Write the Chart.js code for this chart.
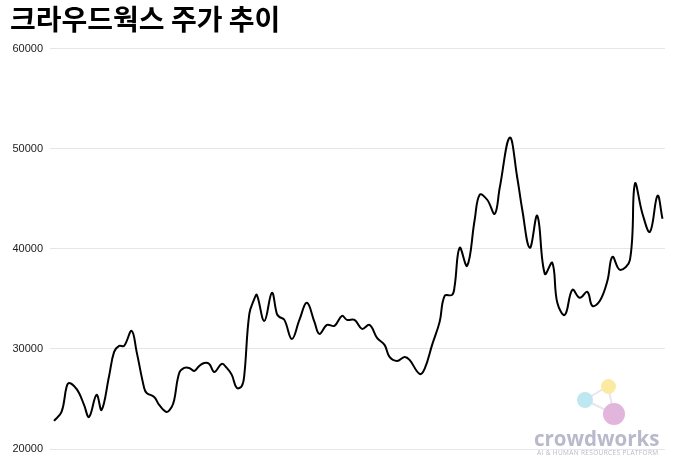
<!DOCTYPE html>
<html lang="ko">
<head>
<meta charset="utf-8">
<title>크라우드웍스 주가 추이</title>
<script src="https://cdn.jsdelivr.net/npm/chart.js@4"></script>
<style>
    html, body { margin: 0; padding: 0; background: #fff; }
    #wrap { position: relative; width: 680px; height: 460px; }
    #logo { position: absolute; left: 0; top: 0; width: 680px; height: 460px; pointer-events: none; }
    .dot { position: absolute; border-radius: 50%; }
    .brand { position: absolute; font-family: "Open Sans", "DejaVu Sans", sans-serif; color: #b9b9cb; white-space: nowrap; }
</style>
</head>
<body>
<div id="wrap">
    <canvas id="priceChart" width="680" height="460"></canvas>
    <div id="logo">
        <svg width="680" height="460" style="position:absolute;left:0;top:0">
            <line x1="585" y1="400" x2="608" y2="386" stroke="#e6e6ee" stroke-width="2"/>
            <line x1="608" y1="386" x2="614" y2="414" stroke="#e6e6ee" stroke-width="2"/>
            <line x1="585" y1="400" x2="614" y2="414" stroke="#e6e6ee" stroke-width="2"/>
        </svg>
        <div class="dot" style="left:577px;top:392px;width:16px;height:16px;background:#bfe7ef"></div>
        <div class="dot" style="left:601px;top:379px;width:15px;height:15px;background:#fceaa3"></div>
        <div class="dot" style="left:603px;top:403px;width:22px;height:22px;background:#e1b5dc"></div>
        <div class="brand" style="left:534px;top:424px;font-size:20.5px;font-weight:700">crowdworks</div>
        <div class="brand" style="left:537px;top:448px;font-size:6.5px;letter-spacing:0.35px">AI &amp; HUMAN RESOURCES PLATFORM</div>
    </div>
</div>
<script>
// --- datos (índice de día hábil y precio en won) ---
const days = [
    0, 3, 5, 6, 8, 10, 12, 14, 17, 19, 22, 24, 26, 28, 31, 33, 36, 37, 40, 42,
    45, 47, 48, 50, 52, 54, 56, 58, 60, 62, 64, 67, 69, 71, 73, 75, 76, 78, 80, 81,
    84, 87, 89, 90, 92, 95, 98, 101, 104, 106, 109, 112, 115, 117, 120, 123, 126, 129, 132, 134,
    137, 140, 142, 146, 148, 151, 154, 156, 159, 160, 162, 165, 168, 170, 173, 176, 178, 182, 185, 187,
    190, 193, 196, 199, 201, 204, 207, 210, 213, 215, 218, 221, 223, 226, 230, 232, 235, 238, 241, 243
];
const prices = [
    22800, 23700, 26200, 26600, 26300, 25600, 24400, 23200, 25400, 23900,
    27300, 29700, 30300, 30300, 31800, 29700, 26100, 25600, 25200, 24400,
    23700, 24200, 24900, 27600, 28100, 28100, 27800, 28300, 28600, 28500,
    27700, 28500, 28100, 27400, 26100, 26300, 27400, 33500, 35000, 35400,
    32800, 35600, 33500, 33200, 32900, 31000, 32900, 34600, 32700, 31500,
    32400, 32300, 33300, 32900, 32900, 32000, 32400, 31100, 30400, 29200,
    28800, 29200, 28900, 27500, 28000, 30400, 32700, 35300, 35400, 36300,
    40100, 38300, 42900, 45400, 44900, 43500, 46100, 51100, 47100, 43900,
    40100, 43300, 37500, 38600, 34600, 33400, 35900, 35100, 35700, 34300,
    34800, 36800, 39200, 37900, 38900, 46500, 43500, 41700, 45300, 43000
];
const yTicks = [20000, 30000, 40000, 50000, 60000];

const points = days.map((d, i) => ({ x: d, y: prices[i] }));

const ctx = document.getElementById('priceChart').getContext('2d');
const priceChart = new Chart(ctx, {
    type: 'line',
    data: {
        datasets: [{
            label: '주가',
            data: points,
            borderColor: '#000',
            borderWidth: 2,
            tension: 0.4,
            pointRadius: 0,
            fill: false
        }]
    },
    options: {
        responsive: false,
        animation: false,
        layout: { padding: { left: 10, right: 15, top: 0, bottom: 11 } },
        plugins: {
            legend: { display: false },
            tooltip: { enabled: false },
            title: {
                display: true,
                text: '크라우드웍스 주가 추이',
                align: 'start',
                color: '#000',
                font: { family: '"Noto Sans CJK KR", sans-serif', size: 28, weight: 'bold' },
                padding: { top: 3, bottom: 12 }
            }
        },
        scales: {
            x: {
                type: 'linear',
                min: -1.6,
                max: 244,
                display: false
            },
            y: {
                min: yTicks[0],
                max: yTicks[yTicks.length - 1],
                afterFit: (scale) => {
                    scale.width = 40;
                    scale.paddingTop = 0;
                    scale.paddingBottom = 0;
                },
                afterBuildTicks: (scale) => { scale.ticks = yTicks.map(v => ({ value: v })); },
                border: { display: false },
                grid: { color: '#e6e6e6', drawTicks: false, lineWidth: 1 },
                ticks: {
                    padding: 7,
                    color: '#222',
                    font: { family: 'Liberation Sans, Arial, sans-serif', size: 11 },
                    callback: (v) => String(v)
                }
            }
        }
    }
});
</script>
</body>
</html>
